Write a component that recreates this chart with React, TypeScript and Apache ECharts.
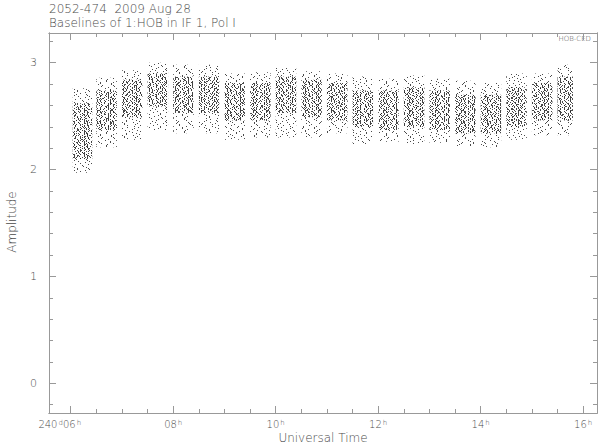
import React, { useEffect, useRef } from "react";
import * as echarts from "echarts";

// ---- texts ----
const titleLine1 = "2052-474  2009 Aug 28";
const titleLine2 = "Baselines of 1:HOB in IF 1, Pol I";
const baselineLabel = "HOB-CED";
const xAxisName = "Universal Time";
const yAxisName = "Amplitude";
const dayNumber = "240";

// ---- axes ----
const xMin = 5.576;
const xMax = 16.27;
const yMin = -0.278;
const yMax = 3.278;
const xMajorTicks = [6, 8, 10, 12, 14, 16];
const xMinorTicks = [6.5, 7, 7.5, 8.5, 9, 9.5, 10.5, 11, 11.5, 12.5, 13, 13.5, 14.5, 15, 15.5];
const yMajorTicks = [0, 1, 2, 3];
const yMinorTicks = [-0.2, 0.2, 0.4, 0.6, 0.8, 1.2, 1.4, 1.6, 1.8, 2.2, 2.4, 2.6, 2.8, 3.2];

// ---- scans (UT hours) and amplitude spread ----
const scanStart = [6.04, 6.5, 7.0, 7.5, 8.0, 8.5, 9.0, 9.5, 10.0, 10.5, 11.0, 11.5, 12.0, 12.5, 13.0, 13.5, 14.0, 14.5, 15.0, 15.5];
const scanEnd = [6.42, 6.9, 7.4, 7.9, 8.4, 8.9, 9.4, 9.9, 10.4, 10.9, 11.4, 11.9, 12.4, 12.9, 13.4, 13.9, 14.4, 14.9, 15.4, 15.8];
const ampMax = [2.76, 2.86, 2.93, 3.0, 2.98, 2.98, 2.9, 2.91, 2.95, 2.92, 2.9, 2.87, 2.85, 2.88, 2.85, 2.83, 2.81, 2.9, 2.9, 2.98];
const ampCoreHigh = [2.62, 2.74, 2.84, 2.9, 2.87, 2.87, 2.81, 2.81, 2.87, 2.84, 2.81, 2.74, 2.74, 2.77, 2.74, 2.7, 2.7, 2.77, 2.81, 2.87];
const ampCoreLow = [2.1, 2.37, 2.49, 2.59, 2.53, 2.53, 2.46, 2.46, 2.53, 2.49, 2.46, 2.4, 2.37, 2.4, 2.37, 2.34, 2.34, 2.4, 2.46, 2.46];
const ampMin = [1.97, 2.21, 2.28, 2.37, 2.34, 2.34, 2.28, 2.3, 2.3, 2.3, 2.34, 2.24, 2.26, 2.24, 2.25, 2.22, 2.21, 2.28, 2.32, 2.32];

const TEXT = "#4a4a4a";
const AXIS = "#999";
const FONT = '"DejaVu Sans", sans-serif';
const WEIGHT = 200;

// dot textures used to render the scatter density of each scan
const coreDecal = {
  symbol: "rect",
  symbolSize: 1,
  color: "rgba(20,20,20,0.8)",
  backgroundColor: "rgba(0,0,0,0)",
  dashArrayX: [
    [1, 3, 1, 2, 1, 4],
    [0, 2, 1, 3, 1, 1, 1, 4],
    [1, 5, 1, 2, 1, 3],
    [0, 1, 1, 4, 1, 2, 1, 3],
    [0, 3, 1, 2, 1, 5, 1, 1],
    [1, 2, 1, 4, 1, 3],
    [0, 4, 1, 1, 1, 3, 1, 2],
    [0, 1, 1, 2, 1, 5, 1, 3],
    [1, 4, 1, 3, 1, 2],
    [0, 2, 1, 5, 1, 1, 1, 3],
    [1, 3, 1, 1, 1, 6],
  ],
  dashArrayY: [1, 0],
  rotation: 0,
};

const tailDecal = {
  symbol: "rect",
  symbolSize: 1,
  color: "rgba(30,30,30,0.8)",
  backgroundColor: "rgba(0,0,0,0)",
  dashArrayX: [
    [1, 10],
    [0, 5, 1, 6],
    [0, 8, 1, 2],
    [0, 2, 1, 10],
    [0, 6, 1, 3],
    [0, 9, 1, 3],
    [0, 1, 1, 9],
    [0, 7, 1, 5],
    [0, 3, 1, 7],
    [0, 10, 1, 2],
    [0, 4, 1, 8],
    [0, 6, 1, 4],
    [0, 2, 1, 9],
  ],
  dashArrayY: [1, 0],
  rotation: 0,
};

function makeRender(decal: any) {
  return (params: any, api: any) => {
    const p0 = api.coord([api.value(0), api.value(3)]);
    const p1 = api.coord([api.value(1), api.value(2)]);
    return {
      type: "rect",
      shape: { x: p0[0], y: p0[1], width: p1[0] - p0[0], height: p1[1] - p0[1] },
      style: { fill: "rgba(0,0,0,0)", decal },
    };
  };
}

function xAxisDef(position: "top" | "bottom", ticks: number[], len: number, labels: boolean) {
  return {
    type: "value",
    position,
    min: xMin,
    max: xMax,
    axisLine: { show: true, onZero: false, lineStyle: { color: AXIS, width: 1 } },
    axisTick: { show: true, inside: true, length: len, customValues: ticks, lineStyle: { color: AXIS, width: 1 } },
    axisLabel: labels
      ? {
          show: true,
          customValues: ticks,
          margin: 6,
          color: TEXT,
          fontFamily: FONT,
          fontWeight: WEIGHT,
          fontSize: 10,
          formatter: (v: number) =>
            v === 6
              ? `${dayNumber}{sup|d}06{sup|h}{pad|}`
              : `${String(v).padStart(2, "0")}{sup|h}`,
          rich: {
            sup: { fontSize: 7, verticalAlign: "top", color: TEXT, fontFamily: FONT, fontWeight: WEIGHT, padding: [0, 0, 0, 1] },
            pad: { width: 22 },
          },
        }
      : { show: false },
    splitLine: { show: false },
  };
}

function yAxisDef(position: "left" | "right", ticks: number[], len: number, labels: boolean) {
  return {
    type: "value",
    position,
    min: yMin,
    max: yMax,
    axisLine: { show: true, onZero: false, lineStyle: { color: AXIS, width: 1 } },
    axisTick: { show: true, inside: true, length: len, customValues: ticks, lineStyle: { color: AXIS, width: 1 } },
    axisLabel: labels
      ? {
          show: true,
          customValues: ticks,
          margin: 12,
          color: TEXT,
          fontFamily: FONT,
          fontWeight: WEIGHT,
          fontSize: 11,
          formatter: (v: number) => String(v),
        }
      : { show: false },
    splitLine: { show: false },
  };
}

export default function App() {
  const ref = useRef<HTMLDivElement>(null);
  useEffect(() => {
    document.body.style.margin = "0";
    const el = ref.current!;
    const chart = echarts.init(el, null, { renderer: "svg" });
    const tailData = scanStart.map((s, i) => [s, scanEnd[i], ampMin[i], ampMax[i]]);
    const coreData = scanStart.map((s, i) => [s, scanEnd[i], ampCoreLow[i], ampCoreHigh[i]]);
    const f = (size: number) => `${WEIGHT} ${size}px ${FONT}`;
    const option: any = {
      animation: false,
      backgroundColor: "#fff",
      grid: { left: 49, right: 3, top: 33, bottom: 34, show: false },
      xAxis: [
        xAxisDef("bottom", xMajorTicks, 7, true),
        xAxisDef("bottom", xMinorTicks, 4, false),
        xAxisDef("top", xMajorTicks, 7, false),
        xAxisDef("top", xMinorTicks, 4, false),
      ],
      yAxis: [
        yAxisDef("left", yMajorTicks, 7, true),
        yAxisDef("left", yMinorTicks, 4, false),
        yAxisDef("right", yMajorTicks, 7, false),
        yAxisDef("right", yMinorTicks, 4, false),
      ],
      graphic: [
        { type: "text", x: 49, y: 9, style: { text: titleLine1, fill: TEXT, font: f(12), verticalAlign: "middle" } },
        { type: "text", x: 49, y: 23, style: { text: titleLine2, fill: TEXT, font: f(12), verticalAlign: "middle" } },
        { type: "text", x: 591, y: 39, style: { text: baselineLabel, fill: TEXT, font: f(7), align: "right", verticalAlign: "middle" } },
        { type: "text", x: 323, y: 438, style: { text: xAxisName, fill: TEXT, font: f(12), align: "center", verticalAlign: "middle" } },
        { type: "text", x: 12, y: 222, rotation: Math.PI / 2, style: { text: yAxisName, fill: TEXT, font: f(12), align: "center", verticalAlign: "middle" } },
      ],
      series: [
        { type: "custom", renderItem: makeRender(tailDecal), data: tailData, encode: { x: [0, 1], y: [2, 3] }, silent: true },
        { type: "custom", renderItem: makeRender(coreDecal), data: coreData, encode: { x: [0, 1], y: [2, 3] }, silent: true },
      ],
    };
    chart.setOption(option);
    return () => chart.dispose();
  }, []);
  return <div ref={ref} style={{ width: 600, height: 447 }} />;
}
